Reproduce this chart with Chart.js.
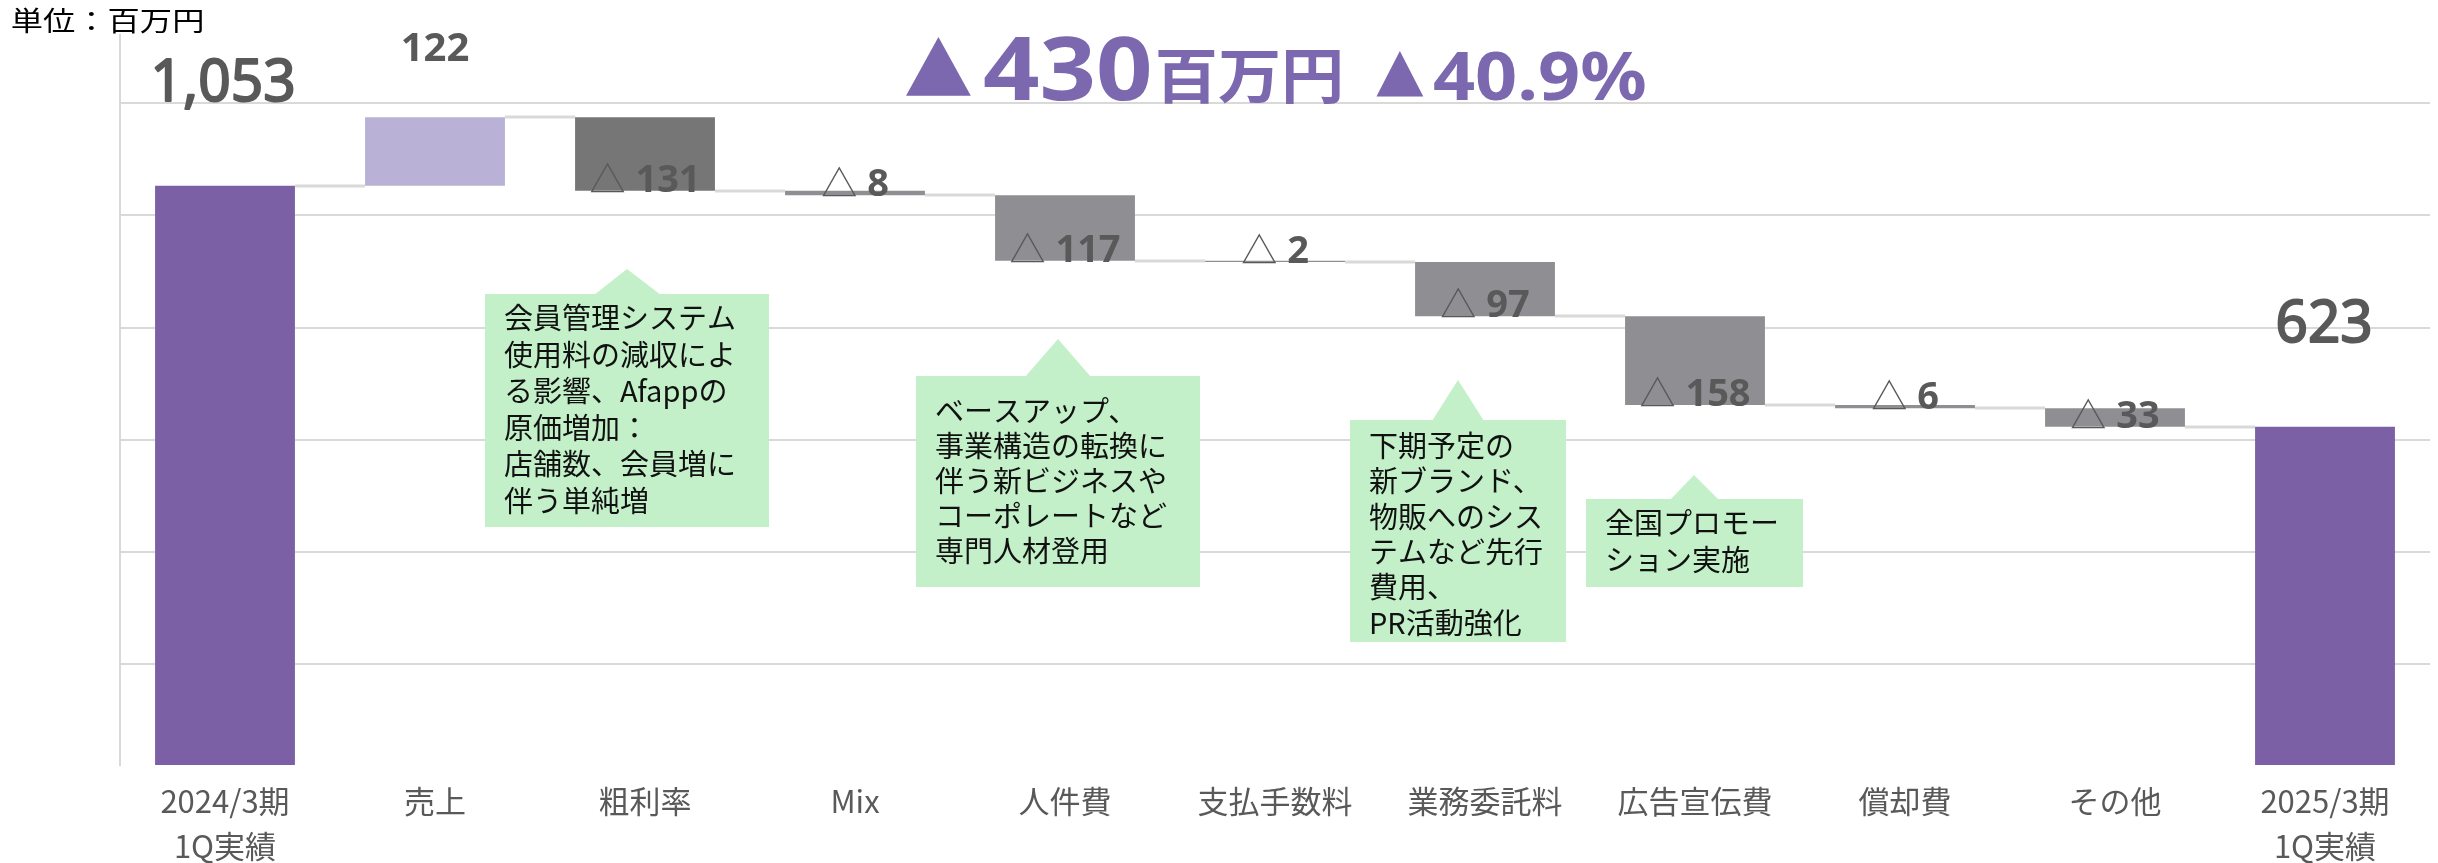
<!DOCTYPE html>
<html lang="ja">
<head>
<meta charset="utf-8">
<script src="https://cdn.jsdelivr.net/npm/chart.js@4.4.1/dist/chart.umd.min.js"></script>
<style>
  html, body { margin: 0; padding: 0; background: #fff; }
  #wrap { width: 2438px; height: 863px; }
</style>
</head>
<body>
<div id="wrap"><canvas id="chart" width="2438" height="863"></canvas></div>
<script>
// 営業利益の増減（単位：百万円）
const categories = [['2024/3期', '1Q実績'], '売上', '粗利率', 'Mix', '人件費', '支払手数料', '業務委託料', '広告宣伝費', '償却費', 'その他', ['2025/3期', '1Q実績']];
const startValue = 1053;
const changes = [122, -131, -8, -117, -2, -97, -158, -6, -33];
const endValue = 623;
const gridTicks = [200, 400, 600, 800, 1000, 1200];
const unitLabel = '単位：百万円';
const headline = ['▲', '430', '百万円', '▲', '40.9%'];
const noteTexts = [
  ['会員管理システム', '使用料の減収によ', 'る影響、Afappの', '原価増加：', '店舗数、会員増に', '伴う単純増'],
  ['ベースアップ、', '事業構造の転換に', '伴う新ビジネスや', 'コーポレートなど', '専門人材登用'],
  ['下期予定の', '新ブランド、', '物販へのシス', 'テムなど先行', '費用、', 'PR活動強化'],
  ['全国プロモー', 'ション実施']
];

// 吹き出しの配置（ピクセル）
const noteLayout = [
  { x: 485, y: 294, w: 284, h: 233, tip: [594, 661, 627, 269], ty: 305, lh: 36.5 },
  { x: 916, y: 376, w: 284, h: 211, tip: [1025, 1091, 1058, 339], ty: 398, lh: 35 },
  { x: 1350, y: 420, w: 216, h: 222, tip: [1432, 1484, 1458, 380], ty: 433, lh: 35.3 },
  { x: 1586, y: 499, w: 217, h: 88, tip: [1670, 1719, 1694, 475], ty: 510, lh: 37 }
];

const PURPLE = '#7B60A6';
const LABEL = '#595959';
const JP = '"Noto Sans CJK JP", "Noto Sans", sans-serif';
const LAT = '"Noto Sans", "Open Sans", sans-serif';

// ウォーターフォール用の [下端, 上端]
const ranges = [[0, startValue]];
let level = startValue;
changes.forEach(d => {
  ranges.push([level, level + d]);
  level += d;
});
ranges.push([0, endValue]);

const colors = ranges.map((r, i) => {
  if (i === 0 || i === ranges.length - 1) return PURPLE;
  if (i === 1) return '#BAB1D6';
  if (i === 2) return '#767676';
  return '#8F8E93';
});

function fmt(v) {
  return Math.abs(v).toLocaleString('en-US');
}

// インク幅を指定して横方向に伸縮して描く（stroke>0 で少し太らせる）
function drawFitted(ctx, text, font, left, width, baseline, stroke) {
  ctx.font = font;
  const m = ctx.measureText(text);
  const ink = m.actualBoundingBoxLeft + m.actualBoundingBoxRight;
  const sx = width / ink;
  ctx.save();
  ctx.translate(left + m.actualBoundingBoxLeft * sx, baseline);
  ctx.scale(sx, 1);
  ctx.textAlign = 'left';
  ctx.fillText(text, 0, 0);
  if (stroke) {
    ctx.strokeStyle = ctx.fillStyle;
    ctx.lineWidth = stroke;
    ctx.lineJoin = 'round';
    ctx.strokeText(text, 0, 0);
  }
  ctx.restore();
}

const connectors = {
  id: 'connectors',
  beforeDatasetsDraw(chart) {
    const ctx = chart.ctx;
    const bars = chart.getDatasetMeta(0).data;
    const y = chart.scales.y;
    ctx.save();
    ctx.strokeStyle = '#D9D9D9';
    ctx.lineWidth = 3;
    for (let i = 0; i < bars.length - 1; i++) {
      const py = Math.round(y.getPixelForValue(ranges[i][1]));
      ctx.beginPath();
      ctx.moveTo(bars[i].x + bars[i].width / 2, py);
      ctx.lineTo(bars[i + 1].x - bars[i + 1].width / 2, py);
      ctx.stroke();
    }
    ctx.restore();
  }
};

const valueLabels = {
  id: 'valueLabels',
  afterDatasetsDraw(chart) {
    const ctx = chart.ctx;
    const bars = chart.getDatasetMeta(0).data;
    const y = chart.scales.y;
    ctx.save();
    ctx.fillStyle = LABEL;
    ctx.textBaseline = 'alphabetic';
    bars.forEach((bar, i) => {
      const [a, b] = ranges[i];
      if (i === 0 || i === bars.length - 1) {
        const txt = fmt(b);
        const w = txt.length > 3 ? 137 : 91;
        drawFitted(ctx, txt, '58px ' + LAT, bar.x - w / 2 - 1, w, y.getPixelForValue(b) - 85, 2);
      } else if (b > a) {
        ctx.textAlign = 'center';
        ctx.font = 'bold 40px ' + LAT;
        ctx.fillText(fmt(b - a), bar.x, y.getPixelForValue(b) - 56);
      } else {
        const base = y.getPixelForValue(b);
        const num = fmt(b - a);
        ctx.font = '36px ' + JP;
        const wT = ctx.measureText('△').width;
        ctx.font = 'bold 38px ' + LAT;
        const wN = ctx.measureText(num).width;
        const gap = 10;
        const x0 = bar.x - (wT + gap + wN) / 2;
        ctx.textAlign = 'left';
        ctx.font = '36px ' + JP;
        ctx.fillText('△', x0, base + 2);
        ctx.font = 'bold 38px ' + LAT;
        ctx.fillText(num, x0 + wT + gap, base + 1);
      }
    });
    ctx.restore();
  },
  afterDraw(chart) {
    const ctx = chart.ctx;
    ctx.save();
    // 単位
    ctx.fillStyle = '#fff';
    ctx.fillRect(0, 0, 210, 34);
    ctx.fillStyle = '#000';
    drawFitted(ctx, unitLabel, '27px ' + JP, 12, 190, 31);

    // 見出し
    ctx.fillStyle = '#7B68AE';
    drawFitted(ctx, headline[0], '72px ' + JP, 906, 65, 96);
    drawFitted(ctx, headline[1], 'bold 88px ' + LAT, 984, 166, 100);
    drawFitted(ctx, headline[2], 'bold 60px ' + JP, 1158, 182, 98);
    drawFitted(ctx, headline[3], '56px ' + JP, 1376, 48, 97);
    drawFitted(ctx, headline[4], 'bold 66px ' + LAT, 1434, 211, 100);

    // 吹き出し
    noteLayout.forEach((n, k) => {
      ctx.fillStyle = '#C3F0C9';
      ctx.fillRect(n.x, n.y, n.w, n.h);
      ctx.beginPath();
      ctx.moveTo(n.tip[0], n.y + 1);
      ctx.lineTo(n.tip[2], n.tip[3]);
      ctx.lineTo(n.tip[1], n.y + 1);
      ctx.closePath();
      ctx.fill();
      ctx.fillStyle = '#111';
      ctx.font = '29px ' + JP;
      ctx.textAlign = 'left';
      ctx.textBaseline = 'alphabetic';
      noteTexts[k].forEach((line, j) => {
        ctx.fillText(line, n.x + 19, n.ty + 24 + j * n.lh);
      });
    });
    ctx.restore();
  }
};

new Chart(document.getElementById('chart'), {
  type: 'bar',
  data: {
    labels: categories,
    datasets: [{
      data: ranges,
      backgroundColor: colors,
      borderWidth: 0,
      categoryPercentage: 1,
      barPercentage: 0.666,
      clip: 0
    }]
  },
  options: {
    responsive: false,
    animation: false,
    devicePixelRatio: 1,
    layout: { padding: { left: 120, right: 8, top: 0, bottom: 0 } },
    plugins: {
      legend: { display: false },
      tooltip: { enabled: false }
    },
    scales: {
      x: {
        grid: { display: false },
        border: { display: false },
        ticks: {
          color: LABEL,
          font: { family: JP, size: 31, lineHeight: 1.45 },
          padding: 6,
          autoSkip: false,
          maxRotation: 0
        },
        afterFit(scale) { scale.height = 98; }
      },
      y: {
        min: 20,
        max: 1384,
        afterBuildTicks(scale) {
          scale.ticks = gridTicks.map(v => ({ value: v }));
        },
        afterFit(scale) { scale.width = 0; },
        ticks: { display: false },
        grid: { color: '#D9D9D9', lineWidth: 2, drawTicks: false },
        border: { display: true, color: '#D9D9D9', width: 2 }
      }
    }
  },
  plugins: [connectors, valueLabels]
});
</script>
</body>
</html>
